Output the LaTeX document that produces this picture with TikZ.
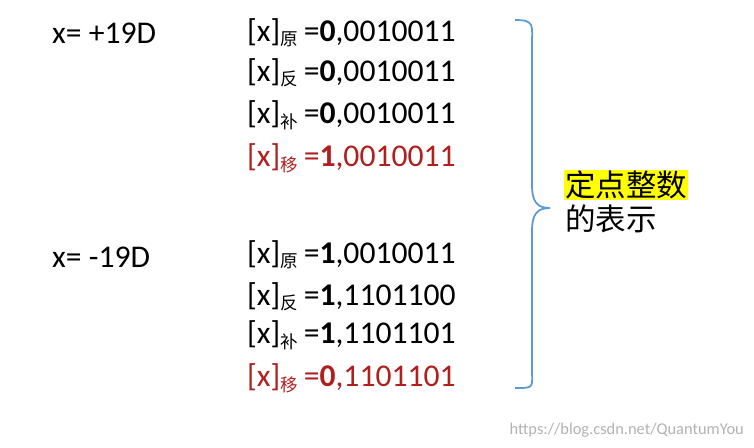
\documentclass[tikz,border=0pt]{standalone}
\usepackage{fontspec}
\setmainfont{Carlito}
\newfontfamily\cjk{Noto Sans CJK SC}
\definecolor{bracketblue}{RGB}{91,155,213}
\definecolor{shiftred}{RGB}{176,30,30}
\definecolor{hiyellow}{RGB}{255,255,0}
\newcommand{\sub}[1]{$_{\text{\cjk\fontsize{15}{15}\selectfont #1}}$\,}
\usepackage{amsmath}
\tikzset{
  code/.style={anchor=west,inner sep=0pt,font=\fontsize{27}{30}\selectfont},
  shiftcode/.style={code,text=shiftred}
}
\begin{document}
\begin{tikzpicture}[x=0.03cm,y=-0.03cm]
        \useasboundingbox (0,0) rectangle (754,448);
        % positive
        \node[code] (xp) at (52,33) {x= +19D};
        \node[code] (p1) at (247,33) {[x]\sub{原}=\textbf{0},0010011};
        \node[code] (p2) at (247,73) {[x]\sub{反}=\textbf{0},0010011};
        \node[code] (p3) at (247,115) {[x]\sub{补}=\textbf{0},0010011};
        \node[shiftcode] (p4) at (247,158) {[x]\sub{移}=\textbf{1},0010011};
        % negative
        \node[code] (xn) at (52,257) {x= -19D};
        \node[code] (n1) at (247,255) {[x]\sub{原}=\textbf{1},0010011};
        \node[code] (n2) at (247,297) {[x]\sub{反}=\textbf{1},1101100};
        \node[code] (n3) at (247,335) {[x]\sub{补}=\textbf{1},1101101};
        \node[shiftcode] (n4) at (247,378) {[x]\sub{移}=\textbf{0},1101101};
        % brace
        \draw[bracketblue,line width=1.5pt]
          (515,20) .. controls (535,20) and (532,25) .. (532,45)
          -- (532,185) .. controls (532,203) and (538,208) .. (550,208)
          .. controls (538,208) and (532,213) .. (532,231)
          -- (532,368) .. controls (532,388) and (535,388) .. (515,388);
        \node[code,font=\cjk\fontsize{26}{30}\selectfont,fill=hiyellow,inner sep=1pt] (t1) at (564,185) {定点整数};
        \node[code,font=\cjk\fontsize{26}{30}\selectfont] (t2) at (565,219) {的表示};
        \node[anchor=east,text=gray!60,font=\fontsize{14}{15}\selectfont] (wm) at (748,430) {https://blog.csdn.net/QuantumYou};
\end{tikzpicture}
\end{document}
